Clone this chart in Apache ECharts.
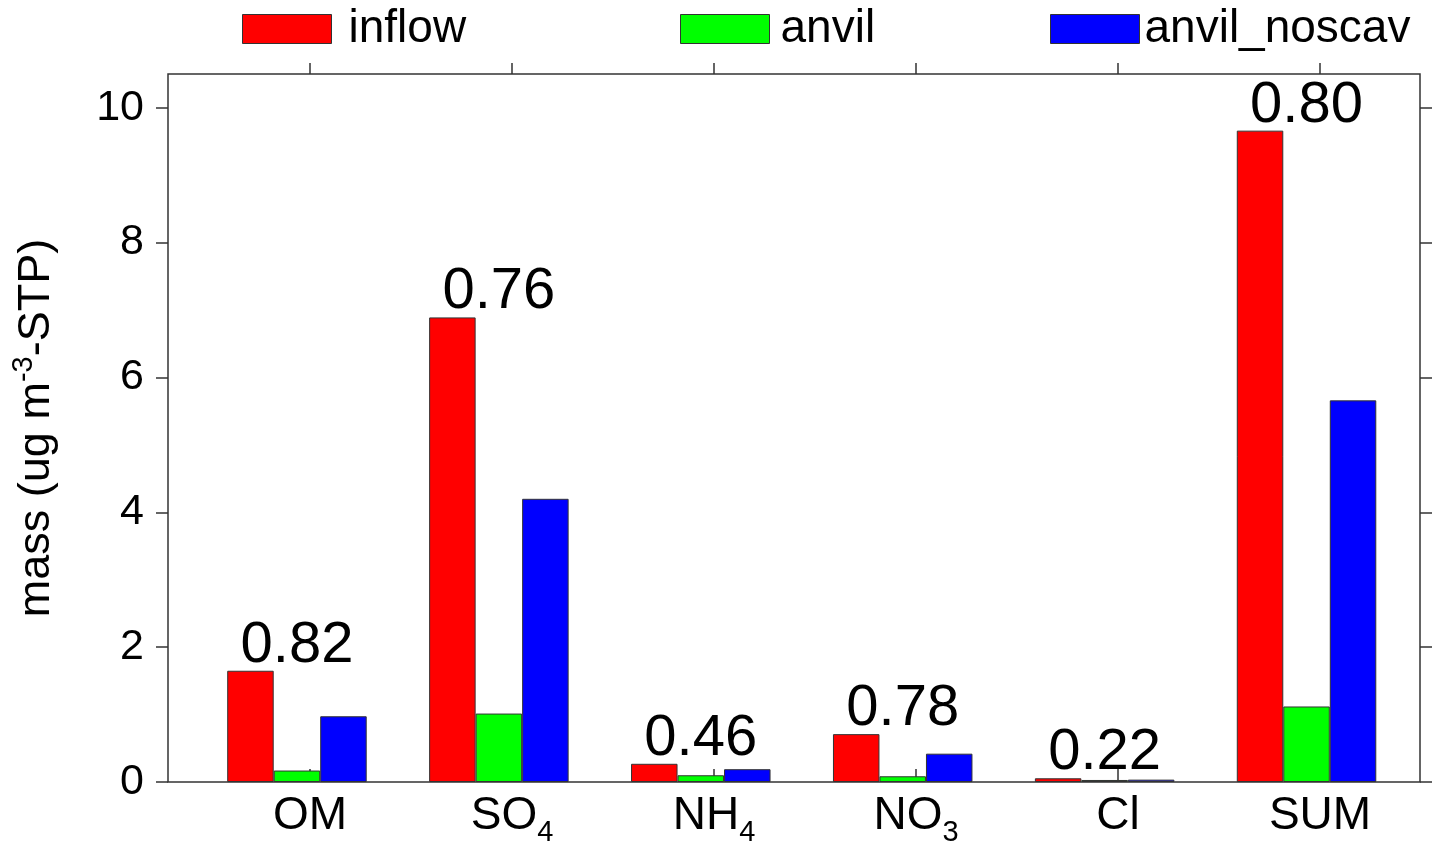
<!DOCTYPE html>
<html><head><meta charset="utf-8">
<script src="https://cdn.jsdelivr.net/npm/echarts@6/dist/echarts.min.js"></script>
<style>html,body{margin:0;padding:0;background:#fff}#c{width:1433px;height:847px}</style>
</head><body><div id="c"></div>
<script>
const categories = ['OM', 'SO4', 'NH4', 'NO3', 'Cl', 'SUM'];
const inflow = [1.65, 6.89, 0.27, 0.71, 0.055, 9.66];
const anvil = [0.17, 1.015, 0.10, 0.085, 0.03, 1.12];
const anvilNoscav = [0.975, 4.20, 0.19, 0.42, 0.035, 5.66];
const ratioLabels = ['0.82', '0.76', '0.46', '0.78', '0.22', '0.80'];
const seriesNames = ['inflow', 'anvil', 'anvil_noscav'];
const yTicks = [0, 2, 4, 6, 8, 10];
const yMax = 10.5;

const FONT = '"Liberation Sans", Arial, Helvetica, sans-serif';
const colors = ['#ff0000', '#00ff00', '#0000ff'];
const seriesValues = [inflow, anvil, anvilNoscav];

function catFmt(v) {
  const m = v.match(/^([A-Za-z]+)(\d+)$/);
  return m ? '{b|' + m[1] + '}{sub|' + m[2] + '}' : '{b|' + v + '}';
}

const chart = echarts.init(document.getElementById('c'), null, {renderer: 'canvas'});
const axisColor = '#333';

const option = {
  animation: false,
  backgroundColor: '#fff',
  textStyle: {fontFamily: FONT, color: '#000'},
  legend: seriesNames.map((n, i) => ({
    data: [n],
    left: [242, 680, 1050][i],
    top: 6,
    padding: 0,
    itemWidth: 89,
    itemHeight: 29,
    icon: 'rect',
    textStyle: {fontSize: 46, fontFamily: FONT, color: '#000', padding: [0, 0, 0, [12, 6, 0][i]]},
    itemStyle: {borderColor: '#333', borderWidth: 1}
  })),
  grid: [
    {left: 168, right: 13, top: 74, bottom: 65, show: true, borderColor: axisColor, borderWidth: 1.5, backgroundColor: 'transparent'},
    {left: 196, right: 25.5, top: 74, bottom: 65},
    {left: 209, right: 12, top: 74, bottom: 65}
  ],
  xAxis: [
    {gridIndex: 0, type: 'value', show: false, min: 0, max: 1},
    {gridIndex: 1, type: 'category', data: categories, show: false},
    {gridIndex: 2, type: 'category', data: categories, position: 'bottom',
      axisLine: {show: false},
      axisTick: {show: true, alignWithLabel: true, length: 11, lineStyle: {color: axisColor, width: 1.5}},
      axisLabel: {margin: 24, color: '#000', formatter: catFmt,
        rich: {
          b: {fontSize: 46, fontFamily: FONT, color: '#000', lineHeight: 46},
          sub: {fontSize: 29, fontFamily: FONT, color: '#000', lineHeight: 46, padding: [33, 0, 0, 0]}
        }}},
    {gridIndex: 2, type: 'category', data: categories, position: 'top',
      axisLine: {show: false},
      axisTick: {show: true, alignWithLabel: true, length: 11, lineStyle: {color: axisColor, width: 1.5}},
      axisLabel: {show: false}}
  ],
  yAxis: [
    {gridIndex: 0, type: 'value', min: 0, max: yMax, position: 'left',
      name: 'mass (ug m{sup|-3}-STP)', nameLocation: 'middle', nameGap: 104, nameRotate: 90,
      nameTextStyle: {fontSize: 45, fontFamily: FONT, color: '#000',
        rich: {sup: {fontSize: 29, fontFamily: FONT, color: '#000', padding: [0, 0, 26, 0]}}},
      axisLine: {show: false}, splitLine: {show: false},
      axisTick: {show: true, length: 12, customValues: yTicks, lineStyle: {color: axisColor, width: 1.5}},
      axisLabel: {fontSize: 43, color: '#000', margin: 24, customValues: yTicks, fontFamily: FONT}},
    {gridIndex: 0, type: 'value', min: 0, max: yMax, position: 'right',
      axisLine: {show: false}, splitLine: {show: false},
      axisTick: {show: true, length: 12, customValues: yTicks, lineStyle: {color: axisColor, width: 1.5}},
      axisLabel: {show: false}},
    {gridIndex: 1, type: 'value', min: 0, max: yMax, show: false},
    {gridIndex: 2, type: 'value', min: 0, max: yMax, show: false}
  ],
  series: seriesNames.map((n, i) => ({
    name: n, type: 'bar', xAxisIndex: 1, yAxisIndex: 2,
    data: seriesValues[i], barWidth: 46.5, barGap: '0%',
    itemStyle: {color: colors[i], borderColor: '#333', borderWidth: 1}
  })).concat([{
    name: 'ratio', type: 'scatter', xAxisIndex: 1, yAxisIndex: 2,
    data: inflow, symbolSize: 0, z: 10, silent: true,
    itemStyle: {opacity: 1},
    label: {show: true, position: 'top', distance: -4, fontSize: 58, fontFamily: FONT, color: '#000', opacity: 1,
      formatter: p => ratioLabels[p.dataIndex]}
  }])
};
chart.setOption(option);
</script>
</body></html>
